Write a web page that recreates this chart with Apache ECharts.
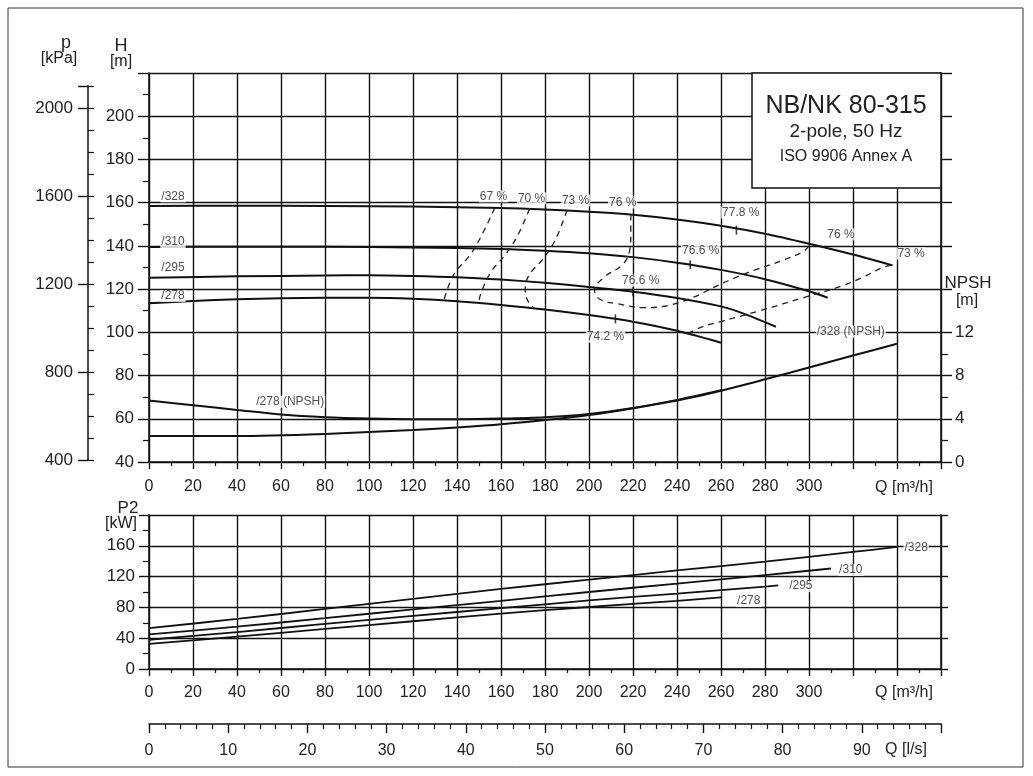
<!DOCTYPE html>
<html><head><meta charset="utf-8">
<script src="https://cdn.jsdelivr.net/npm/echarts@6/dist/echarts.min.js"></script>
<style>html,body{margin:0;padding:0;background:#fff}#c{width:1033px;height:776px}</style>
</head><body><div id="c"></div>
<script>
// ---------- tick labels ----------
const Q_LABELS = [0,20,40,60,80,100,120,140,160,180,200,220,240,260,280,300];
const H_LABELS = [40,60,80,100,120,140,160,180,200];
const P_LABELS = [400,800,1200,1600,2000];
const NPSH_LABELS = [0,4,8,12];
const NPSH_MINOR = [2,6,10];
const P2_LABELS = [0,40,80,120,160];
const QLS_LABELS = [0,10,20,30,40,50,60,70,80,90];

// ---------- head curves H [m] vs Q [m3/h] ----------
const h328 = [[0,158.5],[40,158.6],[80,158.5],[120,158.2],[160,157.5],[180,156.8],[200,155.8],[220,154.4],[240,152.2],[260,149.3],[280,145.6],[300,141],[320,136],[338,131]];
const h310 = [[0,139.5],[40,139.6],[80,139.6],[120,139.3],[160,138.6],[180,137.8],[200,136.6],[220,134.8],[240,132.2],[260,128.9],[280,124.6],[300,119],[308.5,116]];
const h295 = [[0,125.3],[40,125.9],[80,126.3],[100,126.4],[120,126.1],[140,125.5],[160,124.4],[180,122.9],[200,121],[220,118.8],[240,115.9],[260,112],[270,108.8],[285,102.6]];
const h278 = [[0,113.5],[20,114.5],[40,115.3],[60,115.8],[80,116],[100,116],[120,115.5],[140,114.4],[160,112.7],[180,110.6],[200,108],[220,104.9],[240,100.7],[260,95.2]];

// ---------- NPSH [m] ----------
const npsh328 = [[0,2.4],[40,2.4],[80,2.6],[120,2.97],[160,3.5],[200,4.35],[240,5.7],[260,6.6],[280,7.65],[300,8.75],[320,9.85],[340,10.95]];
const npsh278 = [[0,5.7],[20,5.25],[40,4.82],[60,4.4],[80,4.15],[100,4.02],[120,3.96],[140,3.96],[160,4.02],[180,4.15],[200,4.45],[220,5.0],[240,5.75],[260,6.65]];

// ---------- iso-efficiency contours (Q, H) ----------
const eff67 = [[157.2,157.6],[151.4,145.3],[146.1,136],[138.5,126.7],[134,114.6]];
const eff70 = [[173,157.2],[167.4,144.5],[162,136],[155.2,127.5],[150.7,117.5],[149.8,113.4]];
const eff73a = [[190,156.5],[184.8,143],[179.5,134.5],[172.5,126],[171,119],[172.5,114],[175,111.2]];
const eff73b = [[245,99.3],[251,102.4],[260,105],[277,109.8],[299,116.5],[314.5,121.3],[324,125.3],[334,130.2],[338,131]];
const eff76 = [[219,154.5],[219,146],[218.5,138],[215.3,131.4],[206.6,125.3],[202.5,119.5],[205,115.3],[213,113.2],[224.9,111.4],[235.8,112.4],[247.6,116.3],[256.7,120.8],[265.8,125],[275.8,129],[287.2,133],[297.7,137.6],[300.5,141]];
const bep = [[267,147.3],[246,131.3],[220,118.8],[212,106.2]];

// ---------- power P2 [kW] ----------
const p2_328 = [[0,53],[40,65],[80,78],[120,91],[160,104],[200,116],[240,128],[280,139.5],[320,152],[340,158.5]];
const p2_310 = [[0,45],[40,55],[80,66],[120,77.5],[160,88.5],[200,100],[240,111],[280,122],[310,130.5]];
const p2_295 = [[0,38],[40,48],[80,58.5],[120,69],[160,79],[200,89],[240,98],[280,107],[286,108.5]];
const p2_278 = [[0,32.5],[40,42],[80,52],[120,62],[160,72],[200,80.5],[240,88.5],[260,93]];

// ---------- annotations [Q, value, text] ----------
const headTags = [[10.9,162.9,'/328'],[10.9,141.8,'/310'],[10.9,129.8,'/295'],[10.9,116.8,'/278']];
const effTags = [[156.6,162.9,'67 %'],[173.9,162,'70 %'],[193.9,161,'73 %'],[215.3,160.1,'76 %'],[269,155.5,'77.8 %'],[314.5,145.3,'76 %'],[346.4,136.5,'73 %'],[250.8,137.9,'76.6 %'],[223.5,124,'76.6 %'],[207.5,98,'74.2 %']];
const npshTags = [[319,12.06,'/328 (NPSH)'],[64.2,5.57,'/278 (NPSH)']];
const p2Tags = [[348.7,157,'/328'],[319,128.5,'/310'],[296.3,107.7,'/295'],[272.6,88.2,'/278']];

// ---------- layout / style ----------
const NARROW = "'Liberation Sans Narrow','Liberation Sans',Arial,sans-serif";
const SANS = "'Liberation Sans',Arial,sans-serif";
const INK = '#111';
const G0 = {left:149, top:73, width:792, height:389};
const G1 = {left:149, top:515, width:792, height:154};
const G2 = {left:149, top:723, width:792, height:1};
const pxPerM = G0.height/180;
const pTop = G0.top + (220 - 2100/9.81)*pxPerM;
const pBot = G0.top + (220 - 400/9.81)*pxPerM;
const G3 = {left:88, top:pTop, width:1, height:pBot-pTop};
const G4 = Object.assign({}, G0);   // overlay grid for NPSH minor ticks
const G5 = Object.assign({}, G3);   // overlay grid for kPa minor ticks

const fmt = list => v => list.indexOf(Math.round(v*1000)/1000) >= 0 ? String(Math.round(v)) : '';
const line = {show:true, onZero:false, lineStyle:{color:INK, width:1.5}};
const noLine = {show:false, onZero:false};
const split = {show:true, lineStyle:{color:INK, width:1.4}};

function curve(data, xi, yi, w) {
  return {type:'line', xAxisIndex:xi, yAxisIndex:yi, data:data, smooth:0.3,
    symbol:'none', lineStyle:{color:INK, width:w||2}, z:3, silent:true};
}
function dashed(data) {
  return {type:'line', xAxisIndex:0, yAxisIndex:0, data:data, smooth:0.4, symbol:'none',
    lineStyle:{color:'#222', width:1.3, type:[6,5]}, z:3, silent:true};
}
function tags(arr, xi, yi, size) {
  return {type:'scatter', xAxisIndex:xi, yAxisIndex:yi, symbolSize:0.1, itemStyle:{color:'rgba(0,0,0,0)'}, z:6, silent:true,
    data: arr.map(a => ({value:[a[0],a[1]], name:a[2]})),
    label:{show:true, position:'inside', formatter:p=>p.name, color:'#222', fontSize:size||12, fontFamily:NARROW,
      backgroundColor:'#fff', padding:[0,1]}};
}

const option = {
  animation:false,
  backgroundColor:'#fff',
  grid:[G0,G1,G2,G3,G4,G5],
  xAxis:[
    {gridIndex:0, type:'value', min:0, max:360, interval:20, axisLine:line,
      axisTick:{show:true, length:7, lineStyle:{color:INK, width:1.4}},
      minorTick:{show:true, splitNumber:2, length:4, lineStyle:{color:INK, width:1.2}},
      axisLabel:{margin:17, color:'#222', fontSize:16, fontFamily:NARROW, formatter:fmt(Q_LABELS)},
      splitLine:split},
    {gridIndex:1, type:'value', min:0, max:360, interval:20, axisLine:line,
      axisTick:{show:true, length:7, lineStyle:{color:INK, width:1.4}},
      minorTick:{show:true, splitNumber:2, length:4, lineStyle:{color:INK, width:1.2}},
      axisLabel:{margin:16, color:'#222', fontSize:16, fontFamily:NARROW, formatter:fmt(Q_LABELS)},
      splitLine:split},
    {gridIndex:2, type:'value', min:0, max:100, interval:10, axisLine:line,
      axisTick:{show:true, length:9, lineStyle:{color:INK, width:1.4}},
      minorTick:{show:true, splitNumber:5, length:5, lineStyle:{color:INK, width:1.2}},
      axisLabel:{margin:19, color:'#222', fontSize:16, fontFamily:NARROW, formatter:fmt(QLS_LABELS)},
      splitLine:{show:false}},
    {gridIndex:3, type:'value', show:false, min:0, max:1},
    {gridIndex:4, type:'value', show:false, min:0, max:1},
    {gridIndex:5, type:'value', show:false, min:0, max:1}
  ],
  yAxis:[
    {gridIndex:0, type:'value', min:40, max:220, interval:20, axisLine:line,
      axisTick:{show:true, length:11, lineStyle:{color:INK, width:1.4}},
      minorTick:{show:true, splitNumber:2, length:6, lineStyle:{color:INK, width:1.2}},
      axisLabel:{margin:15, color:'#222', fontSize:17, fontFamily:SANS, formatter:fmt(H_LABELS)},
      splitLine:split},
    {gridIndex:0, type:'value', position:'right', min:0, max:36, interval:4, axisLine:line,
      axisTick:{show:true, length:11, lineStyle:{color:INK, width:1.4}},
      axisLabel:{margin:14, color:'#222', fontSize:17, fontFamily:SANS, formatter:fmt(NPSH_LABELS)},
      splitLine:{show:false}},
    {gridIndex:4, type:'value', position:'right', min:0, max:36, axisLine:noLine,
      axisTick:{show:true, length:7, customValues:NPSH_MINOR, lineStyle:{color:INK, width:1.2}},
      axisLabel:{show:false}, splitLine:{show:false}},
    {gridIndex:3, type:'value', position:'left', min:400, max:2100, interval:400, axisLine:line,
      axisTick:{show:true, length:10, lineStyle:{color:INK, width:1.4}},
      axisLabel:{margin:15, color:'#222', fontSize:17, fontFamily:SANS, formatter:fmt(P_LABELS)},
      splitLine:{show:false}},
    {gridIndex:5, type:'value', position:'left', min:400, max:2100, interval:100, axisLine:noLine,
      axisTick:{show:true, inside:true, length:6, lineStyle:{color:INK, width:1.2}},
      axisLabel:{show:false}, splitLine:{show:false}},
    {gridIndex:1, type:'value', min:0, max:200, interval:40, axisLine:line,
      axisTick:{show:true, length:10, lineStyle:{color:INK, width:1.4}},
      minorTick:{show:true, splitNumber:2, length:6, lineStyle:{color:INK, width:1.2}},
      axisLabel:{margin:14, color:'#222', fontSize:17, fontFamily:SANS, formatter:fmt(P2_LABELS)},
      splitLine:split},
    {gridIndex:2, type:'value', show:false, min:0, max:1},
    {gridIndex:1, type:'value', position:'right', min:0, max:200, interval:40, axisLine:line,
      axisTick:{show:true, length:7, lineStyle:{color:INK, width:1.4}},
      axisLabel:{show:false}, splitLine:{show:false}}
  ],
  series:[
    curve(h328,0,0), curve(h310,0,0), curve(h295,0,0), curve(h278,0,0),
    curve(npsh328,0,1), curve(npsh278,0,1),
    dashed(eff67), dashed(eff70), dashed(eff73a), dashed(eff73b), dashed(eff76),
    {type:'scatter', xAxisIndex:0, yAxisIndex:0, data:bep, symbol:'rect', symbolSize:[1.6,9],
      itemStyle:{color:INK}, z:4, silent:true},
    curve(p2_328,1,5,1.8), curve(p2_310,1,5,1.8), curve(p2_295,1,5,1.8), curve(p2_278,1,5,1.8),
    tags(headTags,0,0,12), tags(effTags,0,0,12), tags(npshTags,0,1,12), tags(p2Tags,1,5,12)
  ],
  graphic:[
    {type:'rect', z:100, shape:{x:8, y:8, width:1015, height:759}, style:{fill:'none', stroke:'#333', lineWidth:1}},
    {type:'rect', z:100, shape:{x:752, y:73, width:189, height:115}, style:{fill:'#fff', stroke:INK, lineWidth:1.5}},
    {type:'text', z:101, x:846, y:106, style:{text:'NB/NK 80-315', font:"25px "+SANS, fill:'#222', textAlign:'center', textVerticalAlign:'middle'}},
    {type:'text', z:101, x:846, y:132, style:{text:'2-pole, 50 Hz', font:"19px "+SANS, fill:'#222', textAlign:'center', textVerticalAlign:'middle'}},
    {type:'text', z:101, x:846, y:157, style:{text:'ISO 9906 Annex A', font:"16px "+SANS, fill:'#222', textAlign:'center', textVerticalAlign:'middle'}},
    {type:'text', z:101, x:66, y:43, style:{text:'p', font:"18px "+SANS, fill:'#222', textAlign:'center', textVerticalAlign:'middle'}},
    {type:'text', z:101, x:59, y:59, style:{text:'[kPa]', font:"16px "+SANS, fill:'#222', textAlign:'center', textVerticalAlign:'middle'}},
    {type:'text', z:101, x:121, y:46, style:{text:'H', font:"18px "+SANS, fill:'#222', textAlign:'center', textVerticalAlign:'middle'}},
    {type:'text', z:101, x:121, y:62, style:{text:'[m]', font:"16px "+SANS, fill:'#222', textAlign:'center', textVerticalAlign:'middle'}},
    {type:'text', z:101, x:968, y:283, style:{text:'NPSH', font:"17px "+SANS, fill:'#222', textAlign:'center', textVerticalAlign:'middle'}},
    {type:'text', z:101, x:967, y:301, style:{text:'[m]', font:"16px "+SANS, fill:'#222', textAlign:'center', textVerticalAlign:'middle'}},
    {type:'text', z:101, x:904, y:488, style:{text:'Q [m³/h]', font:"16px "+SANS, fill:'#222', textAlign:'center', textVerticalAlign:'middle'}},
    {type:'text', z:101, x:128, y:508, style:{text:'P2', font:"17px "+SANS, fill:'#222', textAlign:'center', textVerticalAlign:'middle'}},
    {type:'text', z:101, x:121, y:524, style:{text:'[kW]', font:"16px "+SANS, fill:'#222', textAlign:'center', textVerticalAlign:'middle'}},
    {type:'text', z:101, x:904, y:693, style:{text:'Q [m³/h]', font:"16px "+SANS, fill:'#222', textAlign:'center', textVerticalAlign:'middle'}},
    {type:'text', z:101, x:906, y:750, style:{text:'Q [l/s]', font:"16px "+SANS, fill:'#222', textAlign:'center', textVerticalAlign:'middle'}}
  ]
};
const chart = echarts.init(document.getElementById('c'), null, {renderer:'canvas'});
chart.setOption(option);
</script></body></html>
